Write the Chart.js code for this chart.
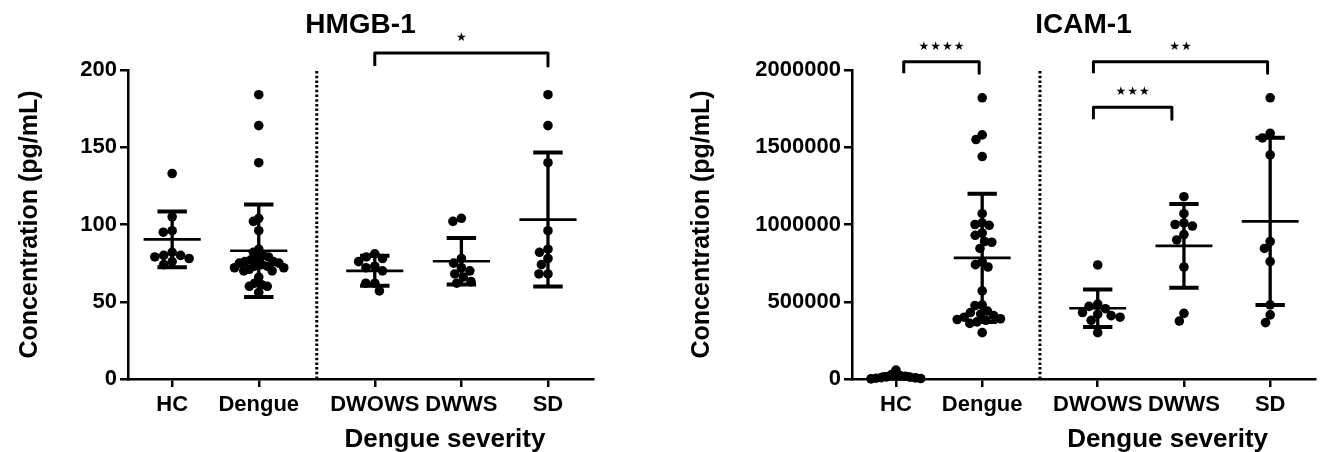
<!DOCTYPE html>
<html><head><meta charset="utf-8">
<script src="https://cdn.jsdelivr.net/npm/chart.js@4"></script>
<style>
html,body{margin:0;padding:0;background:#fff;}
#wrap{position:relative;width:1324px;height:452px;background:#fff;}
canvas{position:absolute;top:0;}
</style></head><body>
<div id="wrap">
<canvas id="c1" width="662" height="452" style="left:0"></canvas>
<canvas id="c2" width="662" height="452" style="left:662px"></canvas>
</div>
<script>
// ---------- data ----------
const categories = ['HC', 'Dengue', 'DWOWS', 'DWWS', 'SD'];

const hmgbHC     = [133, 105, 96, 95, 82, 80, 80, 79, 78, 76, 74];
const hmgbDengue = [184, 164, 140, 104, 102, 96, 84, 82, 80, 79, 78, 77, 76, 76, 75, 75, 74, 73, 73, 72, 72, 71, 70, 70, 66, 62, 61, 60, 60, 56];
const hmgbDWOWS  = [81, 79, 78, 76, 73, 72, 70, 62, 62, 57];
const hmgbDWWS   = [104, 102, 78, 75, 72, 70, 68, 66, 63, 62];
const hmgbSDgrp  = [184, 164, 140, 96, 84, 82, 78, 74, 68, 68];
const hmgbMean   = [90.4, 83, 70, 76.2, 103.2];
const hmgbSDev   = [18, 30, 9.7, 15.1, 43.4];
const hmgbTicks  = [0, 50, 100, 150, 200];

const icamHC     = [58000, 28000, 22000, 18000, 14000, 11000, 9000, 7000, 5000, 3000, 1000];
const icamDengue = [1820000, 1580000, 1550000, 1440000, 1070000, 1010000, 1000000, 995000, 945000, 930000, 890000, 885000, 845000, 760000, 740000, 725000, 570000, 480000, 475000, 440000, 430000, 420000, 410000, 400000, 390000, 385000, 380000, 370000, 360000, 300000];
const icamDWOWS  = [738000, 485000, 470000, 455000, 430000, 420000, 410000, 400000, 380000, 300000];
const icamDWWS   = [1180000, 1070000, 1010000, 1000000, 990000, 935000, 900000, 725000, 425000, 375000];
const icamSDgrp  = [1820000, 1590000, 1560000, 1450000, 890000, 845000, 760000, 480000, 415000, 365000];
const icamMean   = [16000, 784000, 458000, 862000, 1020000];
const icamSDev   = [15000, 415000, 121000, 271000, 541000];
const icamTicks  = [0, 500000, 1000000, 1500000, 2000000];

// significance annotations (label, compared groups, bracket value level)
const hmgbSig = [{ label: '★', a: 2, b: 4, top: 211, leg: 202.6 }];
const icamSig = [
  { label: '★★★★', a: 0, b: 1, top: 2054000, leg: 1979000 },
  { label: '★★',   a: 2, b: 4, top: 2054000, leg: 1979000 },
  { label: '★★★',  a: 2, b: 3, top: 1759000, leg: 1681000 }
];

// ---------- layout ----------
const POS = [1, 2, 3.34, 4.34, 5.34];
const XMIN = 0.49, XMAX = 5.86, SEP = 2.67;
const CAP = 0.17, MW = 0.33;
const FONT = '"Liberation Sans", Arial, Helvetica, sans-serif';

function errorBars(mean, sd) {
  const stems = [], caps = [], means = [];
  POS.forEach((p, i) => {
    const hi = mean[i] + sd[i], lo = mean[i] - sd[i];
    stems.push({x: p, y: lo}, {x: p, y: hi}, {x: p, y: null});
    caps.push({x: p - CAP, y: hi}, {x: p + CAP, y: hi}, {x: p, y: null},
              {x: p - CAP, y: lo}, {x: p + CAP, y: lo}, {x: p, y: null});
    means.push({x: p - MW, y: mean[i]}, {x: p + MW, y: mean[i]}, {x: p, y: null});
  });
  return {stems, caps, means};
}

function bracketData(sig, offs) {
  const d = [];
  sig.forEach((s, i) => {
    const a = POS[s.a] + offs[i][0], b = POS[s.b] + offs[i][1];
    d.push({x: a, y: s.leg}, {x: a, y: s.top}, {x: b, y: s.top}, {x: b, y: s.leg}, {x: a, y: null});
  });
  return d;
}

const annot = {
  id: 'annot',
  afterDatasetsDraw(chart, args, o) {
    const {ctx, chartArea, scales: {x, y}} = chart;
    ctx.save();
    ctx.fillStyle = '#000';
    ctx.textAlign = 'center';
    ctx.textBaseline = 'alphabetic';
    ctx.font = 'bold 28px ' + FONT;
    ctx.fillText(o.title, (chartArea.left + chartArea.right) / 2, 33);
    ctx.font = 'bold 26px ' + FONT;
    ctx.fillText('Dengue severity', x.getPixelForValue(o.xTitle), 447);
    ctx.font = '12px "DejaVu Sans"';
    ctx.textBaseline = 'middle';
    ctx.letterSpacing = '1px';
    o.sig.forEach((s, i) => {
      const a = POS[s.a] + o.offs[i][0], b = POS[s.b] + o.offs[i][1];
      ctx.fillText(s.label, x.getPixelForValue((a + b) / 2) + 0.5, y.getPixelForValue(s.top) - 15);
    });
    ctx.restore();
  }
};

function swarm(chart, groups, diam, lim) {
  const xs = chart.scales.x, ys = chart.scales.y;
  const ppu = xs.getPixelForValue(1) - xs.getPixelForValue(0);
  const out = [];
  groups.forEach((vals, gi) => {
    const placed = [];
    const pts = vals.map(v => ({v, py: ys.getPixelForValue(v)})).sort((a, b) => a.py - b.py);
    pts.forEach(p => {
      const near = placed.filter(q => Math.abs(q.py - p.py) < diam);
      const cands = [0];
      near.forEach(q => {
        const w = Math.sqrt(diam * diam - (q.py - p.py) ** 2);
        cands.push(q.dx + w, q.dx - w);
      });
      cands.sort((a, b) => Math.abs(a) - Math.abs(b) || a - b);
      let dx = 0;
      for (const c of cands) {
        if (near.every(q => (q.dx - c) ** 2 + (q.py - p.py) ** 2 >= diam * diam - 0.01)) { dx = c; break; }
      }
      placed.push({py: p.py, dx, v: p.v});
    });
    const maxAbs = Math.max(...placed.map(q => Math.abs(q.dx)));
    const f = maxAbs > lim ? lim / maxAbs : 1;
    placed.forEach(q => out.push({x: POS[gi] + q.dx * f / ppu, y: q.v}));
  });
  return out;
}

function makeChart(id, cfg) {
  const eb = errorBars(cfg.mean, cfg.sd);
  const init = [];
  cfg.groups.forEach((g, gi) => g.forEach(v => init.push({x: POS[gi], y: v})));
  const lineDs = (data, w, extra) => Object.assign({
    data, showLine: true, borderColor: '#000', borderWidth: w, pointRadius: 0,
    pointHoverRadius: 0, spanGaps: false, clip: false, tension: 0,
    borderCapStyle: 'butt', borderJoinStyle: 'miter'
  }, extra || {});
  const tickFont = {family: FONT, size: 22, weight: 'bold'};
  const chart = new Chart(document.getElementById(id), {
    type: 'line',
    data: {
      datasets: [
        {data: init, showLine: false, pointRadius: 4.8, pointHoverRadius: 4.8,
         pointBackgroundColor: '#000', pointBorderWidth: 0, clip: false},
        lineDs(eb.stems, 3.3),
        lineDs(eb.caps, 4),
        lineDs(eb.means, 2.7),
        lineDs([{x: SEP, y: cfg.ticks[0]}, {x: SEP, y: cfg.ticks[cfg.ticks.length - 1]}], 3, {borderDash: [2.5, 2.2]}),
        lineDs(bracketData(cfg.sig, cfg.offs), 3, {borderJoinStyle: 'round'})
      ]
    },
    options: {
      responsive: false, animation: false, events: [],
      layout: {padding: {left: 0, right: cfg.padRight, top: 70, bottom: 0}},
      plugins: {legend: {display: false}, tooltip: {enabled: false}, title: {display: false},
                annot: {title: cfg.title, xTitle: 4.15, sig: cfg.sig, offs: cfg.offs}},
      scales: {
        x: {
          type: 'linear', min: XMIN, max: XMAX,
          afterBuildTicks: ax => { ax.ticks = POS.map(v => ({value: v})); },
          afterFit: s => { s.height = 73; },
          ticks: {autoSkip: false, maxRotation: 0, color: '#000', font: tickFont, padding: 5,
                  callback: (v, i) => categories[i]},
          grid: {drawOnChartArea: false, drawTicks: true, tickLength: 8, color: '#000', lineWidth: 2.5},
          border: {display: true, color: '#000', width: 2.5}
        },
        y: {
          type: 'linear', min: cfg.ticks[0], max: cfg.ticks[cfg.ticks.length - 1],
          afterBuildTicks: ax => { ax.ticks = cfg.ticks.map(v => ({value: v})); },
          afterFit: s => { s.width = cfg.yWidth; },
          ticks: {color: '#000', font: tickFont, padding: 3, callback: v => String(v)},
          grid: {drawOnChartArea: false, drawTicks: true, tickLength: 8, color: '#000', lineWidth: 2.5},
          border: {display: true, color: '#000', width: 2.5},
          title: {display: true, text: 'Concentration (pg/mL)', color: '#000',
                  font: {family: FONT, size: 25, weight: 'bold'}, padding: {top: cfg.yTitlePad, bottom: 0}}
        }
      }
    },
    plugins: [annot]
  });
  chart.data.datasets[0].data = swarm(chart, cfg.groups, 9, 25);
  chart.update('none');
  return chart;
}

makeChart('c1', {
  title: 'HMGB-1',
  groups: [hmgbHC, hmgbDengue, hmgbDWOWS, hmgbDWWS, hmgbSDgrp],
  mean: hmgbMean, sd: hmgbSDev, ticks: hmgbTicks,
  sig: hmgbSig, offs: [[0, 0]],
  yWidth: 128, padRight: 69, yTitlePad: 15
});
makeChart('c2', {
  title: 'ICAM-1',
  groups: [icamHC, icamDengue, icamDWOWS, icamDWWS, icamSDgrp],
  mean: icamMean, sd: icamSDev, ticks: icamTicks,
  sig: icamSig, offs: [[0.09, -0.035], [-0.05, -0.03], [-0.05, -0.14]],
  yWidth: 190, padRight: 9, yTitlePad: 25
});
</script>
</body></html>
